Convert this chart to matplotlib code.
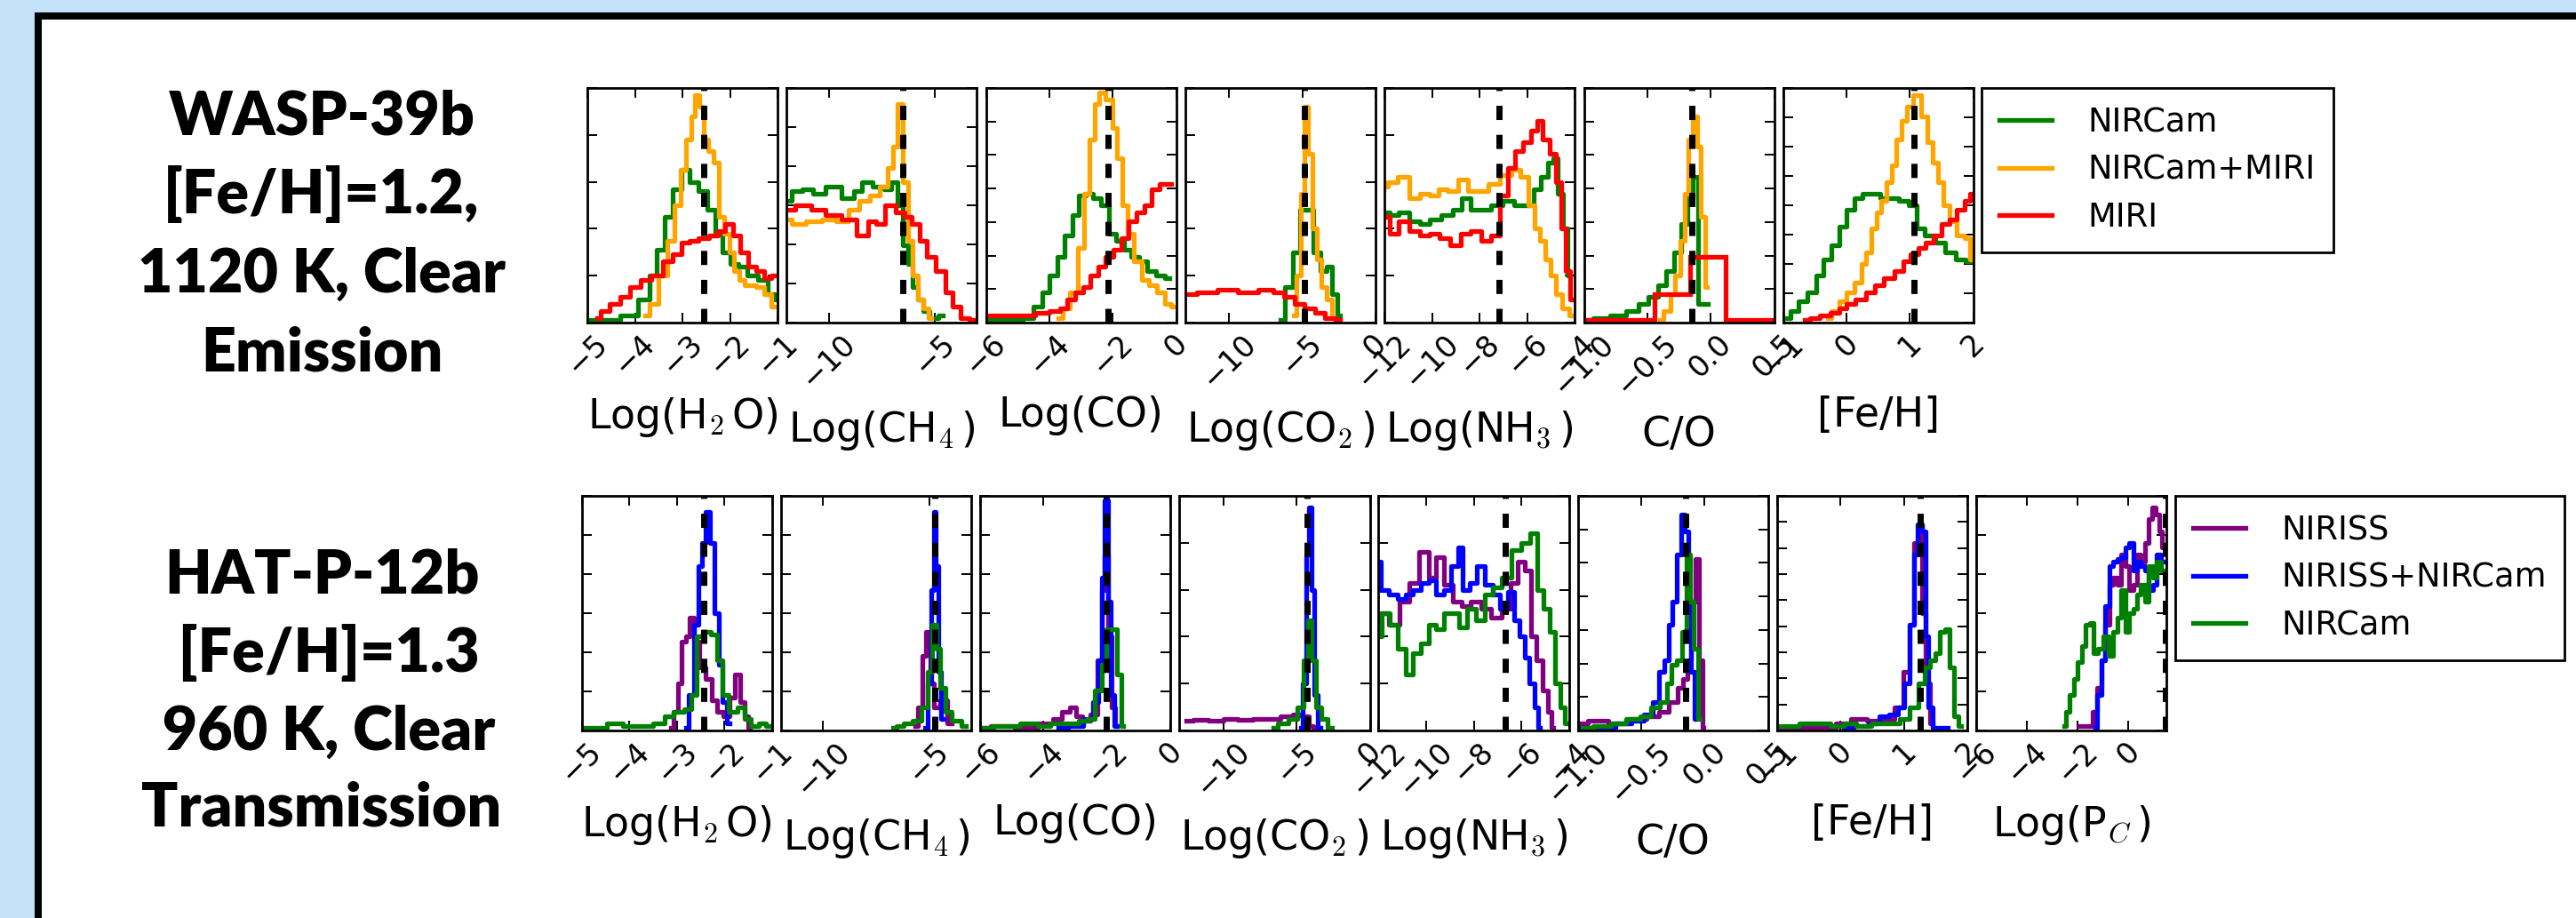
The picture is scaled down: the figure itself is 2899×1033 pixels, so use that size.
import numpy as np
import matplotlib
matplotlib.use('Agg')
import matplotlib.pyplot as plt
from matplotlib.patches import Rectangle
from matplotlib.lines import Line2D

plt.rcParams['mathtext.fontset'] = 'cm'
plt.rcParams['font.family'] = ['DejaVu Sans']

# ---------------- text ----------------
TOP_TITLE = ["WASP-39b", "[Fe/H]=1.2,", "1120 K, Clear", "Emission"]
BOT_TITLE = ["HAT-P-12b", " [Fe/H]=1.3", " 960 K, Clear", "Transmission"]
TOP_NAMES = ["NIRCam", "NIRCam+MIRI", "MIRI"]
BOT_NAMES = ["NIRISS", "NIRISS+NIRCam", "NIRCam"]
TOP_COLORS = ["#008000", "#ffa500", "#ff0000"]
BOT_COLORS = ["#800080", "#0000ff", "#008000"]

TOP_LABELS = [r"Log(H$_2\,$O)", r"Log(CH$_4\,$)", "Log(CO)", r"Log(CO$_2\,$)", r"Log(NH$_3\,$)", "C/O", "[Fe/H]"]
BOT_LABELS = TOP_LABELS + [r"Log(P$_C\,$)"]

TOP_XLIM = [(-5, -1), (-12, -3), (-6, 0), (-13, 0), (-12, -4), (-1.0, 0.5), (-1, 2)]
BOT_XLIM = TOP_XLIM + [(-6, 1.5)]
TOP_XTICKS = [[-5, -4, -3, -2, -1], [-10, -5], [-6, -4, -2, 0], [-10, -5, 0],
              [-12, -10, -8, -6, -4], [-1.0, -0.5, 0.0, 0.5], [-1, 0, 1, 2]]
BOT_XTICKS = TOP_XTICKS + [[-6, -4, -2, 0]]
TOP_TRUTH = [-2.55, -6.5, -2.15, -4.85, -7.18, -0.15, 1.07]
BOT_TRUTH = [-2.43, -4.74, -2.02, -4.27, -6.69, -0.15, 1.26, 1.45]
TOP_NY = [5, 6, 7, 5, 5, 7, 8]
BOT_NY = [6, 6, 6, 5, 5, 7, 9, 6]

# ---------------- WASP-39b posteriors (fraction of panel height) ----------------
W_H2O_G_X = [-5.0, -4.5, -4.1, -3.78, -3.62, -3.46, -3.3, -3.12, -2.93, -2.77, -2.55, -2.39, -2.23, -2.07, -1.9, -1.75, -1.53, -1.3, -1.1, -1.0]
W_H2O_G_Y = [0.01, 0.01, 0.03, 0.1, 0.2, 0.31, 0.45, 0.57, 0.65, 0.6, 0.56, 0.48, 0.38, 0.3, 0.25, 0.24, 0.2, 0.18, 0.12, 0.1]
W_H2O_O_X = [-3.78, -3.62, -3.4, -3.25, -3.1, -2.98, -2.87, -2.77, -2.7, -2.6, -2.5, -2.4, -2.28, -2.18, -2.07, -1.96, -1.86, -1.75, -1.64, -1.53, -1.37, -1.2, -1.05]
W_H2O_O_Y = [0.03, 0.08, 0.2, 0.35, 0.5, 0.65, 0.78, 0.88, 0.97, 0.92, 0.78, 0.73, 0.68, 0.45, 0.38, 0.3, 0.22, 0.18, 0.16, 0.16, 0.15, 0.12, 0.07]
W_H2O_R_X = [-4.8, -4.64, -4.42, -4.2, -3.99, -3.78, -3.51, -3.3, -3.1, -2.93, -2.77, -2.55, -2.34, -2.18, -2.02, -1.86, -1.7, -1.53, -1.37, -1.2, -1.05]
W_H2O_R_Y = [0.02, 0.05, 0.08, 0.11, 0.15, 0.18, 0.2, 0.26, 0.29, 0.34, 0.35, 0.36, 0.37, 0.39, 0.42, 0.37, 0.3, 0.24, 0.22, 0.19, 0.2]

W_CH4_G_X = [-12.0, -11.5, -11.0, -10.5, -9.8, -9.05, -8.6, -8.3, -7.6, -7.2, -6.87, -6.6, -6.4, -6.14, -5.9, -5.65, -5.4, -5.05, -4.6]
W_CH4_G_Y = [0.52, 0.56, 0.57, 0.55, 0.58, 0.53, 0.56, 0.6, 0.58, 0.57, 0.6, 0.5, 0.33, 0.25, 0.15, 0.1, 0.05, 0.02, 0.03]
W_CH4_O_X = [-12.0, -11.5, -10.7, -10.0, -9.3, -8.8, -8.3, -7.83, -7.35, -7.1, -6.87, -6.63, -6.4, -6.14, -5.9, -5.65, -5.4, -5.17]
W_CH4_O_Y = [0.44, 0.42, 0.43, 0.44, 0.43, 0.48, 0.52, 0.54, 0.58, 0.66, 0.75, 0.93, 0.6, 0.35, 0.2, 0.1, 0.06, 0.02]
W_CH4_R_X = [-12.0, -11.2, -10.5, -9.8, -9.05, -8.3, -7.96, -7.6, -7.1, -6.6, -6.26, -5.9, -5.53, -5.17, -4.7, -4.3, -3.96, -3.6, -3.1]
W_CH4_R_Y = [0.48, 0.5, 0.48, 0.46, 0.44, 0.37, 0.43, 0.42, 0.5, 0.47, 0.45, 0.42, 0.35, 0.28, 0.22, 0.13, 0.07, 0.02, 0.01]

W_CO_G_X = [-6.0, -5.0, -4.68, -4.35, -4.1, -3.87, -3.63, -3.39, -3.15, -2.98, -2.74, -2.5, -2.26, -2.0, -1.77, -1.53, -1.29, -1.05, -0.8, -0.48, -0.2]
W_CO_G_Y = [0.01, 0.01, 0.02, 0.07, 0.13, 0.2, 0.28, 0.37, 0.46, 0.54, 0.55, 0.53, 0.5, 0.38, 0.35, 0.31, 0.28, 0.26, 0.22, 0.2, 0.19]
W_CO_O_X = [-3.71, -3.47, -3.23, -2.98, -2.82, -2.66, -2.5, -2.34, -2.1, -1.94, -1.77, -1.61, -1.45, -1.21, -0.97, -0.73, -0.48, -0.24, -0.1]
W_CO_O_Y = [0.02, 0.06, 0.13, 0.32, 0.55, 0.78, 0.93, 0.98, 0.95, 0.83, 0.7, 0.5, 0.38, 0.26, 0.18, 0.16, 0.13, 0.08, 0.07]
W_CO_R_X = [-6.0, -5.3, -4.68, -4.2, -3.8, -3.55, -3.3, -3.06, -2.82, -2.58, -2.34, -2.1, -1.85, -1.61, -1.37, -1.13, -0.89, -0.65, -0.4, -0.16]
W_CO_R_Y = [0.03, 0.03, 0.03, 0.04, 0.05, 0.06, 0.1, 0.13, 0.15, 0.2, 0.24, 0.28, 0.31, 0.36, 0.43, 0.47, 0.5, 0.57, 0.59, 0.59]

W_CO2_G_X = [-6.5, -5.9, -5.4, -4.9, -4.5, -4.0, -3.5, -3.14, -2.8, -2.44]
W_CO2_G_Y = [0.01, 0.15, 0.3, 0.48, 0.48, 0.3, 0.22, 0.24, 0.12, 0.03]
W_CO2_O_X = [-5.6, -5.24, -4.96, -4.7, -4.47, -4.2, -3.84, -3.5, -3.14, -2.8]
W_CO2_O_Y = [0.03, 0.2, 0.55, 0.92, 0.72, 0.4, 0.27, 0.15, 0.1, 0.02]
W_CO2_R_X = [-12.9, -11.5, -10.1, -8.7, -7.3, -6.6, -5.9, -5.2, -4.5, -3.8, -3.1, -2.4]
W_CO2_R_Y = [0.12, 0.13, 0.14, 0.13, 0.14, 0.13, 0.11, 0.08, 0.06, 0.04, 0.02, 0.01]

W_NH3_G_X = [-12.0, -11.6, -11.2, -10.75, -10.3, -9.9, -9.35, -8.9, -8.6, -8.16, -7.73, -7.3, -6.76, -6.33, -5.9, -5.58, -5.25, -5.04, -4.8, -4.6, -4.4, -4.2]
W_NH3_G_Y = [0.47, 0.46, 0.47, 0.43, 0.42, 0.44, 0.46, 0.48, 0.53, 0.48, 0.48, 0.5, 0.52, 0.5, 0.5, 0.57, 0.62, 0.68, 0.7, 0.55, 0.4, 0.2]
W_NH3_O_X = [-12.0, -11.7, -11.2, -10.75, -10.3, -9.9, -9.56, -9.13, -8.7, -8.27, -7.84, -7.4, -6.87, -6.44, -6.1, -5.8, -5.58, -5.36, -5.15, -4.9, -4.67, -4.4, -4.1]
W_NH3_O_Y = [0.58, 0.6, 0.62, 0.53, 0.55, 0.54, 0.57, 0.56, 0.61, 0.56, 0.56, 0.59, 0.63, 0.65, 0.62, 0.5, 0.4, 0.35, 0.27, 0.2, 0.12, 0.06, 0.03]
W_NH3_R_X = [-12.0, -11.6, -11.2, -10.75, -10.3, -9.9, -9.46, -9.0, -8.6, -8.16, -7.73, -7.3, -6.98, -6.66, -6.33, -6.0, -5.7, -5.47, -5.2, -4.93, -4.67, -4.46, -4.28, -4.1]
W_NH3_R_Y = [0.45, 0.38, 0.43, 0.39, 0.37, 0.38, 0.36, 0.33, 0.38, 0.39, 0.35, 0.37, 0.54, 0.66, 0.73, 0.77, 0.82, 0.86, 0.78, 0.72, 0.6, 0.4, 0.22, 0.1]

W_CO_RAT_G_X = [-1.0, -0.85, -0.73, -0.61, -0.53, -0.45, -0.38, -0.32, -0.26, -0.2, -0.16, -0.12, -0.08, -0.04, -0.02]
W_CO_RAT_G_Y = [0.01, 0.02, 0.03, 0.05, 0.08, 0.11, 0.16, 0.22, 0.3, 0.42, 0.53, 0.62, 0.08, 0.08, 0.08]
W_CO_RAT_O_X = [-0.4, -0.34, -0.3, -0.26, -0.22, -0.19, -0.16, -0.12, -0.09, -0.06, -0.03]
W_CO_RAT_O_Y = [0.01, 0.05, 0.12, 0.2, 0.35, 0.55, 0.78, 0.88, 0.75, 0.45, 0.15]
W_CO_RAT_R_EDGES = [-1.0, -0.72, -0.44, -0.16, 0.12, 0.40, 0.68]
W_CO_RAT_R_Y = [0.01, 0.01, 0.12, 0.28, 0.01, 0.01]

W_FEH_G_X = [-0.94, -0.82, -0.7, -0.54, -0.42, -0.3, -0.18, -0.06, 0.06, 0.19, 0.31, 0.45, 0.6, 0.75, 0.9, 1.07, 1.15, 1.31, 1.48, 1.64, 1.8, 1.96]
W_FEH_G_Y = [0.02, 0.05, 0.09, 0.13, 0.2, 0.27, 0.33, 0.41, 0.48, 0.53, 0.55, 0.55, 0.53, 0.53, 0.52, 0.5, 0.4, 0.37, 0.34, 0.3, 0.27, 0.26]
W_FEH_O_X = [-0.3, -0.18, -0.06, 0.06, 0.19, 0.27, 0.35, 0.43, 0.51, 0.59, 0.67, 0.75, 0.83, 0.91, 0.99, 1.11, 1.23, 1.31, 1.4, 1.48, 1.56, 1.68, 1.8, 1.92, 1.98]
W_FEH_O_Y = [0.02, 0.05, 0.09, 0.13, 0.17, 0.25, 0.3, 0.4, 0.47, 0.52, 0.6, 0.67, 0.78, 0.86, 0.92, 0.97, 0.88, 0.77, 0.68, 0.6, 0.5, 0.43, 0.37, 0.36, 0.27]
W_FEH_R_X = [-0.66, -0.5, -0.34, -0.18, -0.06, 0.06, 0.23, 0.39, 0.51, 0.67, 0.83, 0.95, 1.07, 1.19, 1.31, 1.44, 1.56, 1.68, 1.8, 1.92, 1.98]
W_FEH_R_Y = [0.01, 0.02, 0.03, 0.04, 0.06, 0.08, 0.1, 0.13, 0.16, 0.19, 0.22, 0.26, 0.29, 0.32, 0.34, 0.37, 0.42, 0.44, 0.48, 0.52, 0.55]

# ---------------- HAT-P-12b posteriors ----------------
H_H2O_P_X = [-3.12, -3.02, -2.93, -2.86, -2.77, -2.7, -2.59, -2.48, -2.32, -2.21, -2.1, -1.95, -1.84, -1.73, -1.62, -1.55, -1.46]
H_H2O_P_Y = [0.01, 0.08, 0.2, 0.38, 0.4, 0.48, 0.38, 0.27, 0.22, 0.13, 0.08, 0.06, 0.14, 0.24, 0.12, 0.06, 0.01]
H_H2O_B_X = [-2.8, -2.7, -2.59, -2.5, -2.43, -2.35, -2.27, -2.16, -2.08, -2.0, -1.89]
H_H2O_B_Y = [0.01, 0.15, 0.45, 0.7, 0.8, 0.93, 0.8, 0.5, 0.28, 0.12, 0.03]
H_H2O_G_X = [-5.0, -4.62, -4.3, -3.98, -3.66, -3.34, -3.18, -2.96, -2.75, -2.64, -2.53, -2.37, -2.21, -2.1, -2.0, -1.84, -1.62, -1.52, -1.36, -1.2, -1.05]
H_H2O_G_Y = [0.01, 0.01, 0.03, 0.02, 0.02, 0.03, 0.06, 0.08, 0.09, 0.15, 0.4, 0.42, 0.41, 0.3, 0.15, 0.08, 0.1, 0.05, 0.02, 0.03, 0.02]

H_CH4_P_X = [-5.65, -5.41, -5.25, -5.05, -4.86, -4.64, -4.33, -3.92]
H_CH4_P_Y = [0.02, 0.1, 0.32, 0.42, 0.2, 0.1, 0.13, 0.03]
H_CH4_B_X = [-5.17, -4.98, -4.84, -4.74, -4.64, -4.5, -4.33]
H_CH4_B_Y = [0.01, 0.2, 0.6, 0.93, 0.7, 0.25, 0.05]
H_CH4_G_X = [-6.71, -6.37, -6.0, -5.53, -5.17, -4.93, -4.74, -4.55, -4.38, -4.1, -3.73, -3.25]
H_CH4_G_Y = [0.01, 0.02, 0.03, 0.04, 0.1, 0.25, 0.45, 0.35, 0.18, 0.08, 0.04, 0.02]

H_CO_P_X = [-6.0, -5.3, -4.5, -3.86, -3.54, -3.3, -3.06, -2.9, -2.66, -2.41, -2.22, -2.13, -2.01, -1.93, -1.8, -1.69]
H_CO_P_Y = [0.01, 0.02, 0.01, 0.03, 0.05, 0.08, 0.1, 0.06, 0.04, 0.07, 0.3, 0.6, 0.75, 0.4, 0.1, 0.02]
H_CO_B_X = [-3.54, -2.9, -2.58, -2.33, -2.22, -2.13, -2.03, -1.93, -1.84, -1.69]
H_CO_B_Y = [0.01, 0.02, 0.05, 0.12, 0.3, 0.65, 0.98, 0.55, 0.15, 0.02]
H_CO_G_X = [-6.0, -5.15, -4.34, -4.02, -3.54, -3.06, -2.74, -2.5, -2.25, -2.1, -1.93, -1.77, -1.61, -1.48]
H_CO_G_Y = [0.01, 0.02, 0.03, 0.02, 0.03, 0.03, 0.04, 0.05, 0.17, 0.28, 0.43, 0.43, 0.24, 0.02]

H_CO2_P_X = [-12.55, -11.5, -10.5, -9.5, -8.5, -7.5, -6.6, -5.6, -4.9, -4.36, -4.0, -3.66]
H_CO2_P_Y = [0.04, 0.045, 0.04, 0.05, 0.045, 0.05, 0.05, 0.06, 0.07, 0.06, 0.02, 0.01]
H_CO2_B_X = [-4.7, -4.46, -4.25, -4.1, -3.9, -3.66, -3.4]
H_CO2_B_Y = [0.01, 0.2, 0.75, 0.95, 0.6, 0.15, 0.01]
H_CO2_G_X = [-6.6, -5.93, -5.23, -4.7, -4.36, -4.1, -3.85, -3.5, -3.14, -2.6]
H_CO2_G_Y = [0.01, 0.03, 0.05, 0.1, 0.3, 0.47, 0.3, 0.1, 0.05, 0.01]

H_NH3_P_X = [-12.0, -11.8, -11.35, -10.9, -10.5, -10.06, -9.74, -9.42, -9.1, -8.67, -8.34, -7.9, -7.48, -7.05, -6.62, -6.3, -5.98, -5.72, -5.5, -5.23, -5.0, -4.8, -4.65]
H_NH3_P_Y = [0.45, 0.5, 0.45, 0.55, 0.63, 0.76, 0.65, 0.74, 0.62, 0.55, 0.53, 0.55, 0.52, 0.48, 0.52, 0.63, 0.72, 0.68, 0.4, 0.3, 0.17, 0.08, 0.01]
H_NH3_B_X = [-12.0, -11.8, -11.35, -11.0, -10.7, -10.4, -10.06, -9.74, -9.42, -9.1, -8.77, -8.56, -8.34, -8.02, -7.7, -7.38, -7.05, -6.73, -6.4, -6.2, -5.98, -5.76, -5.55, -5.38, -5.23]
H_NH3_B_Y = [0.72, 0.6, 0.58, 0.56, 0.58, 0.6, 0.63, 0.64, 0.58, 0.6, 0.7, 0.78, 0.6, 0.63, 0.7, 0.62, 0.58, 0.52, 0.59, 0.47, 0.4, 0.31, 0.2, 0.1, 0.01]
H_NH3_G_X = [-12.0, -11.7, -11.35, -11.0, -10.7, -10.4, -10.06, -9.74, -9.42, -9.1, -8.77, -8.45, -8.13, -7.7, -7.38, -7.05, -6.62, -6.2, -5.8, -5.44, -5.23, -4.9, -4.7, -4.47, -4.26, -4.09]
H_NH3_G_Y = [0.4, 0.5, 0.45, 0.35, 0.24, 0.33, 0.37, 0.45, 0.43, 0.5, 0.5, 0.44, 0.52, 0.47, 0.58, 0.61, 0.65, 0.77, 0.8, 0.84, 0.6, 0.52, 0.42, 0.2, 0.1, 0.03]

H_CO_RAT_P_X = [-1.0, -0.84, -0.68, -0.52, -0.4, -0.32, -0.24, -0.19, -0.15, -0.12, -0.09, -0.06, -0.03, -0.01]
H_CO_RAT_P_Y = [0.03, 0.04, 0.03, 0.05, 0.06, 0.08, 0.12, 0.18, 0.22, 0.3, 0.55, 0.73, 0.3, 0.01]
H_CO_RAT_B_X = [-1.0, -0.76, -0.64, -0.52, -0.44, -0.38, -0.34, -0.3, -0.27, -0.24, -0.2, -0.17, -0.14, -0.12, -0.09, -0.07]
H_CO_RAT_B_Y = [0.01, 0.01, 0.03, 0.04, 0.07, 0.12, 0.25, 0.3, 0.45, 0.55, 0.75, 0.92, 0.85, 0.55, 0.25, 0.05]
H_CO_RAT_G_X = [-0.96, -0.8, -0.68, -0.56, -0.46, -0.38, -0.32, -0.28, -0.24, -0.2, -0.16, -0.13, -0.1, -0.07, -0.04]
H_CO_RAT_G_Y = [0.01, 0.02, 0.03, 0.05, 0.06, 0.1, 0.12, 0.2, 0.28, 0.3, 0.42, 0.75, 0.55, 0.35, 0.05]

H_FEH_P_X = [-1.0, -0.2, 0.05, 0.29, 0.53, 0.77, 0.93, 1.05, 1.13, 1.2, 1.25, 1.32, 1.37, 1.45]
H_FEH_P_Y = [0.01, 0.01, 0.03, 0.05, 0.04, 0.05, 0.1, 0.25, 0.45, 0.8, 0.88, 0.5, 0.2, 0.03]
H_FEH_B_X = [0.05, 0.37, 0.53, 0.69, 0.85, 0.97, 1.05, 1.13, 1.19, 1.25, 1.31, 1.36, 1.41, 1.49, 1.69]
H_FEH_B_Y = [0.01, 0.02, 0.03, 0.06, 0.07, 0.1, 0.2, 0.45, 0.75, 0.88, 0.85, 0.4, 0.1, 0.01, 0.01]
H_FEH_G_X = [-1.0, -0.76, -0.52, -0.28, -0.03, 0.13, 0.37, 0.61, 0.85, 1.01, 1.17, 1.29, 1.37, 1.45, 1.53, 1.61, 1.69, 1.75, 1.82, 1.9]
H_FEH_G_Y = [0.02, 0.02, 0.03, 0.03, 0.02, 0.03, 0.02, 0.03, 0.03, 0.05, 0.1, 0.2, 0.27, 0.3, 0.33, 0.42, 0.43, 0.27, 0.06, 0.02]

H_PC_P_X = [-1.93, -1.54, -1.3, -1.15, -0.99, -0.84, -0.68, -0.53, -0.37, -0.21, -0.06, 0.1, 0.25, 0.41, 0.56, 0.72, 0.87, 1.0, 1.14, 1.26, 1.39, 1.45]
H_PC_P_Y = [0.02, 0.02, 0.08, 0.18, 0.3, 0.45, 0.62, 0.65, 0.62, 0.75, 0.7, 0.6, 0.62, 0.75, 0.72, 0.8, 0.9, 0.95, 0.92, 0.85, 0.78, 0.78]
H_PC_B_X = [-1.3, -1.15, -0.99, -0.84, -0.68, -0.53, -0.37, -0.21, -0.06, 0.1, 0.25, 0.41, 0.56, 0.72, 0.87, 1.03, 1.18, 1.34, 1.45]
H_PC_B_Y = [0.01, 0.15, 0.3, 0.53, 0.7, 0.72, 0.73, 0.74, 0.78, 0.8, 0.68, 0.72, 0.7, 0.68, 0.6, 0.62, 0.75, 0.72, 0.72]
H_PC_G_X = [-2.55, -2.39, -2.24, -2.08, -1.93, -1.77, -1.61, -1.46, -1.3, -1.1, -0.91, -0.68, -0.53, -0.37, -0.21, -0.06, 0.1, 0.25, 0.41, 0.56, 0.72, 0.87, 1.03, 1.18, 1.34, 1.45]
H_PC_G_Y = [0.02, 0.08, 0.15, 0.22, 0.29, 0.36, 0.45, 0.46, 0.33, 0.35, 0.4, 0.32, 0.42, 0.48, 0.6, 0.42, 0.5, 0.52, 0.58, 0.62, 0.55, 0.7, 0.65, 0.72, 0.68, 0.68]

TOP_SERIES = [
    [(W_H2O_G_X, W_H2O_G_Y), (W_H2O_O_X, W_H2O_O_Y), (W_H2O_R_X, W_H2O_R_Y)],
    [(W_CH4_G_X, W_CH4_G_Y), (W_CH4_O_X, W_CH4_O_Y), (W_CH4_R_X, W_CH4_R_Y)],
    [(W_CO_G_X, W_CO_G_Y), (W_CO_O_X, W_CO_O_Y), (W_CO_R_X, W_CO_R_Y)],
    [(W_CO2_G_X, W_CO2_G_Y), (W_CO2_O_X, W_CO2_O_Y), (W_CO2_R_X, W_CO2_R_Y)],
    [(W_NH3_G_X, W_NH3_G_Y), (W_NH3_O_X, W_NH3_O_Y), (W_NH3_R_X, W_NH3_R_Y)],
    [(W_CO_RAT_G_X, W_CO_RAT_G_Y), (W_CO_RAT_O_X, W_CO_RAT_O_Y), ('edges', W_CO_RAT_R_EDGES, W_CO_RAT_R_Y)],
    [(W_FEH_G_X, W_FEH_G_Y), (W_FEH_O_X, W_FEH_O_Y), (W_FEH_R_X, W_FEH_R_Y)],
]
BOT_SERIES = [
    [(H_H2O_P_X, H_H2O_P_Y), (H_H2O_B_X, H_H2O_B_Y), (H_H2O_G_X, H_H2O_G_Y)],
    [(H_CH4_P_X, H_CH4_P_Y), (H_CH4_B_X, H_CH4_B_Y), (H_CH4_G_X, H_CH4_G_Y)],
    [(H_CO_P_X, H_CO_P_Y), (H_CO_B_X, H_CO_B_Y), (H_CO_G_X, H_CO_G_Y)],
    [(H_CO2_P_X, H_CO2_P_Y), (H_CO2_B_X, H_CO2_B_Y), (H_CO2_G_X, H_CO2_G_Y)],
    [(H_NH3_P_X, H_NH3_P_Y), (H_NH3_B_X, H_NH3_B_Y), (H_NH3_G_X, H_NH3_G_Y)],
    [(H_CO_RAT_P_X, H_CO_RAT_P_Y), (H_CO_RAT_B_X, H_CO_RAT_B_Y), (H_CO_RAT_G_X, H_CO_RAT_G_Y)],
    [(H_FEH_P_X, H_FEH_P_Y), (H_FEH_B_X, H_FEH_B_Y), (H_FEH_G_X, H_FEH_G_Y)],
    [(H_PC_P_X, H_PC_P_Y), (H_PC_B_X, H_PC_B_Y), (H_PC_G_X, H_PC_G_Y)],
]

# ---------------- figure ----------------
W, H = 2899, 1033
fig = plt.figure(figsize=(W / 100, H / 100), dpi=100)
fig.patch.set_facecolor('#c4e1fa')

PX = 0.72  # points per pixel at dpi 100
frame = Rectangle((43 / W, -0.2), 1.2, 1.2 - 18 / H, transform=fig.transFigure,
                  facecolor='white', edgecolor='black', linewidth=8 * PX, zorder=-5)
fig.add_artist(frame)

LW = 3.8
TICK_FS = 24
LABEL_FS = 33


def panel(x0, y0, x1, y1, xlim, xticks, ny, truth, series, colors, xlabel):
    ax = fig.add_axes([x0 / W, 1 - y1 / H, (x1 - x0) / W, (y1 - y0) / H])
    ax.set_facecolor('white')
    for s, c in zip(series, colors):
        if s[0] == 'edges':
            ax.stairs(s[2], s[1], baseline=None, color=c, lw=LW, zorder=2)
        else:
            ax.step(s[0], s[1], where='mid', color=c, lw=LW, zorder=2)
    ax.axvline(truth, color='k', lw=5, ls=(0, (2.3, 2.4)), zorder=3)
    ax.set_xlim(*xlim)
    ax.set_ylim(0, 1)
    ax.set_xticks(xticks)
    ax.set_yticks(np.linspace(0, 1, ny + 1))
    ax.set_yticklabels([])
    ax.tick_params(axis='both', direction='in', length=8, width=1.4, top=True, right=True)
    ax.tick_params(axis='x', labelsize=TICK_FS, pad=5, labelrotation=45)
    for sp in ax.spines.values():
        sp.set_linewidth(2.0)
    ax.set_xlabel(xlabel, fontsize=LABEL_FS, labelpad=12)
    return ax


for i in range(7):
    x0 = 661 + i * 224.3
    panel(x0, 99, x0 + 214, 363, TOP_XLIM[i], TOP_XTICKS[i], TOP_NY[i], TOP_TRUTH[i],
          TOP_SERIES[i], TOP_COLORS, TOP_LABELS[i])

for i in range(8):
    x0 = 654.5 + i * 224.2
    panel(x0, 558, x0 + 214.5, 822, BOT_XLIM[i], BOT_XTICKS[i], BOT_NY[i], BOT_TRUTH[i],
          BOT_SERIES[i], BOT_COLORS, BOT_LABELS[i])


def legend(names, colors, x, y):
    handles = [Line2D([], [], color=c, lw=LW) for c in colors]
    leg = fig.legend(handles, names, loc='upper left', bbox_to_anchor=(x / W, 1 - y / H),
                     fontsize=26.5, frameon=True, fancybox=False, edgecolor='black',
                     framealpha=1, borderaxespad=0, handlelength=1.6, handletextpad=1.1,
                     labelspacing=0.45, borderpad=0.55)
    leg.get_frame().set_linewidth(2.0)
    return leg


legend(TOP_NAMES, TOP_COLORS, 2230, 99)
legend(BOT_NAMES, BOT_COLORS, 2448, 558)

TITLE_FONT = dict(family=['Lato', 'Open Sans', 'DejaVu Sans'], fontweight=800, fontsize=49)
for line, yb in zip(TOP_TITLE, [152, 240, 329, 417]):
    fig.text(362 / W, 1 - yb / H, line, ha='center', va='baseline', **TITLE_FONT)
for line, yb in zip(BOT_TITLE, [668, 756, 844, 930]):
    fig.text(362 / W, 1 - yb / H, line, ha='center', va='baseline', **TITLE_FONT)

fig.savefig('out.png', dpi=100, facecolor=fig.get_facecolor())
